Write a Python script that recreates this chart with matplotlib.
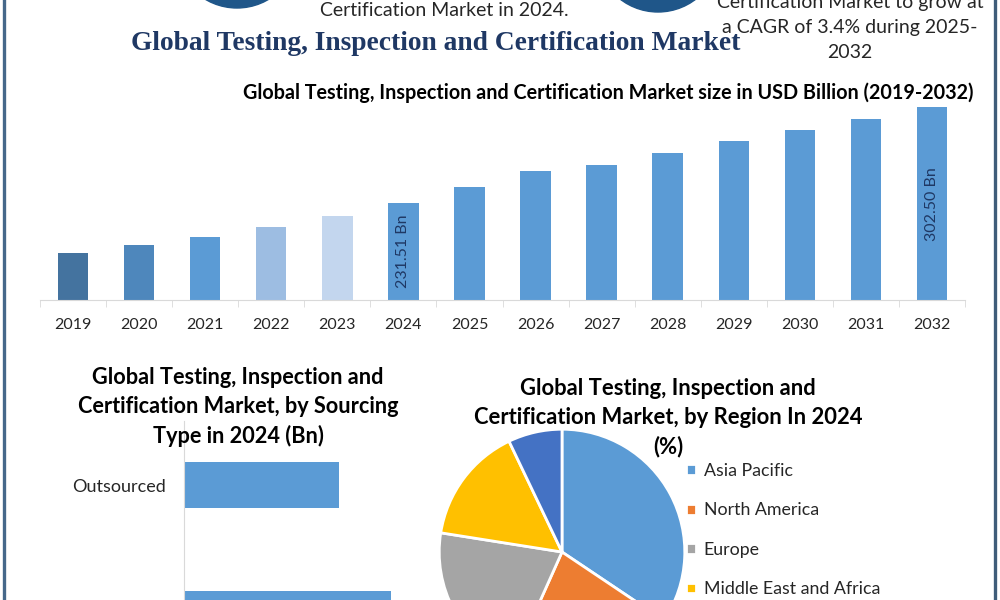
import numpy as np
import matplotlib
matplotlib.use("Agg")
import matplotlib.pyplot as plt
from matplotlib.patches import Circle


# market size, USD Billion
years = ["2019", "2020", "2021", "2022", "2023", "2024", "2025",
         "2026", "2027", "2028", "2029", "2030", "2031", "2032"]
market_size = [194.5, 200.4, 206.4, 213.8, 221.9, 231.51, 243.4,
               255.2, 259.6, 268.5, 277.4, 285.5, 293.6, 302.50]
bar_colors = ["#44739f", "#4e87bc", "#5b9bd5", "#9dbde2", "#c3d6ee"] + ["#5b9bd5"] * 9
labelled_years = ["2024", "2032"]

# sourcing type 2024 (Bn)
sourcing_types = ["Outsourced", "In-house"]
sourcing_values = [99.1, 132.4]

# region share 2024 (%)
regions = ["Asia Pacific", "North America", "Europe", "Middle East and Africa", "South America"]
region_share = [34.4, 22.3, 20.8, 15.4, 7.1]
region_colors = ["#5b9bd5", "#ed7d31", "#a5a5a5", "#ffc000", "#4472c4"]

SANS = "Lato"
NAVY = "#1f3864"
TEXT = "#262626"

W, H = 1000, 600


def px_rect(left, top, width, height):
    """figure fraction rect from pixel box (top-left origin)"""
    return [left / W, 1 - (top + height) / H, width / W, height / H]


fig = plt.figure(figsize=(10, 6), dpi=100)
fig.patch.set_facecolor("white")

# background decorations: circles and frame lines
deco = fig.add_axes([0, 0, 1, 1], zorder=0)
deco.set_xlim(0, W)
deco.set_ylim(H, 0)
deco.axis("off")
deco.add_patch(Circle((237, -54), 62, color="#1f5689"))
deco.add_patch(Circle((658, -50), 62, color="#1f5689"))
deco.plot([3.5, 3.5], [0, H], color="#46688a", lw=2.4)
deco.plot([995, 995], [0, H], color="#3f5c79", lw=2.4)

fig.text(444 / W, 1 - 10 / H, "Certification Market in 2024.", ha="center", va="center",
         fontsize=14, family=SANS, color=TEXT)
fig.text(850 / W, 1 - 27.5 / H, "Certification Market to grow at\na CAGR of 3.4% during 2025-\n2032",
         ha="center", va="center", fontsize=14, family=SANS, color=TEXT,
         linespacing=1.58, multialignment="center")
fig.text(436 / W, 1 - 44 / H, "Global Testing, Inspection and Certification Market",
         ha="center", va="center", fontsize=19.8, family="Liberation Serif",
         fontweight="bold", color=NAVY)

# yearly market size bars
ax = fig.add_axes(px_rect(40, 100, 925, 200))
x = np.arange(len(years))
ymin = 160
ax.bar(x, np.array(market_size) - ymin, bottom=ymin, width=0.46, color=bar_colors)
ax.set_xlim(-0.5, len(years) - 0.5)
ax.set_ylim(ymin, 308)
for i, (yr, val) in enumerate(zip(years, market_size)):
    if yr in labelled_years:
        ax.text(i, (ymin + val) / 2, f"{val:.2f} Bn", rotation=90, ha="center", va="center",
                fontsize=11.5, family=SANS, color=NAVY)
ax.set_xticks(x)
ax.set_xticklabels(years, family=SANS, fontsize=11.5, color=TEXT)
ax.set_xticks(np.arange(-0.5, len(years)), minor=True)
ax.tick_params(axis="x", which="major", length=0, pad=13)
ax.tick_params(axis="x", which="minor", length=5, color="#d9d9d9")
ax.set_yticks([])
for side in ["top", "right", "left"]:
    ax.spines[side].set_visible(False)
ax.spines["bottom"].set_color("#d9d9d9")
ax.patch.set_alpha(0)
fig.text(608 / W, 1 - 93 / H,
         "Global Testing, Inspection and Certification Market size in USD Billion (2019-2032)",
         ha="center", va="center", fontsize=14.2, family=SANS, fontweight="bold", color="black")

# sourcing type bars
ax2 = fig.add_axes(px_rect(184, 420.5, 240, 258))
ax2.barh(np.arange(len(sourcing_types)), sourcing_values, height=0.36, color="#5b9bd5")
ax2.set_ylim(len(sourcing_types) - 0.5, -0.5)
ax2.set_xlim(0, 153.5)
ax2.set_yticks(np.arange(len(sourcing_types)))
ax2.set_yticklabels(sourcing_types, family=SANS, fontsize=13, color=TEXT)
ax2.tick_params(axis="y", length=0, pad=13)
ax2.set_xticks([])
for side in ["top", "right", "bottom"]:
    ax2.spines[side].set_visible(False)
ax2.spines["left"].set_color("#d9d9d9")
ax2.patch.set_alpha(0)
fig.text(238 / W, 1 - 407 / H,
         "Global Testing, Inspection and\nCertification Market, by Sourcing\nType in 2024 (Bn)",
         ha="center", va="center", fontsize=15.6, family=SANS, fontweight="bold",
         color="black", linespacing=1.45, multialignment="center")

# region pie
ax3 = fig.add_axes(px_rect(438, 428, 248, 248))
wedges, _ = ax3.pie(region_share, colors=region_colors, startangle=90, counterclock=False,
                    radius=1, wedgeprops=dict(edgecolor="white", linewidth=2))
ax3.set_xlim(-1.01, 1.01)
ax3.set_ylim(-1.01, 1.01)
ax3.set_aspect("equal")
fig.text(668 / W, 1 - 418 / H,
         "Global Testing, Inspection and\nCertification Market, by Region In 2024\n(%)",
         ha="center", va="center", fontsize=15.8, family=SANS, fontweight="bold",
         color="black", linespacing=1.45, multialignment="center")
fig.legend(wedges, regions, loc="upper left", bbox_to_anchor=(670 / W, 1 - 447 / H),
           frameon=False, prop=dict(family=SANS, size=12.8), labelcolor=TEXT,
           handlelength=0.55, handleheight=0.55, handletextpad=0.45, labelspacing=1.32)

fig.savefig("out.png", dpi=100, facecolor="white")
